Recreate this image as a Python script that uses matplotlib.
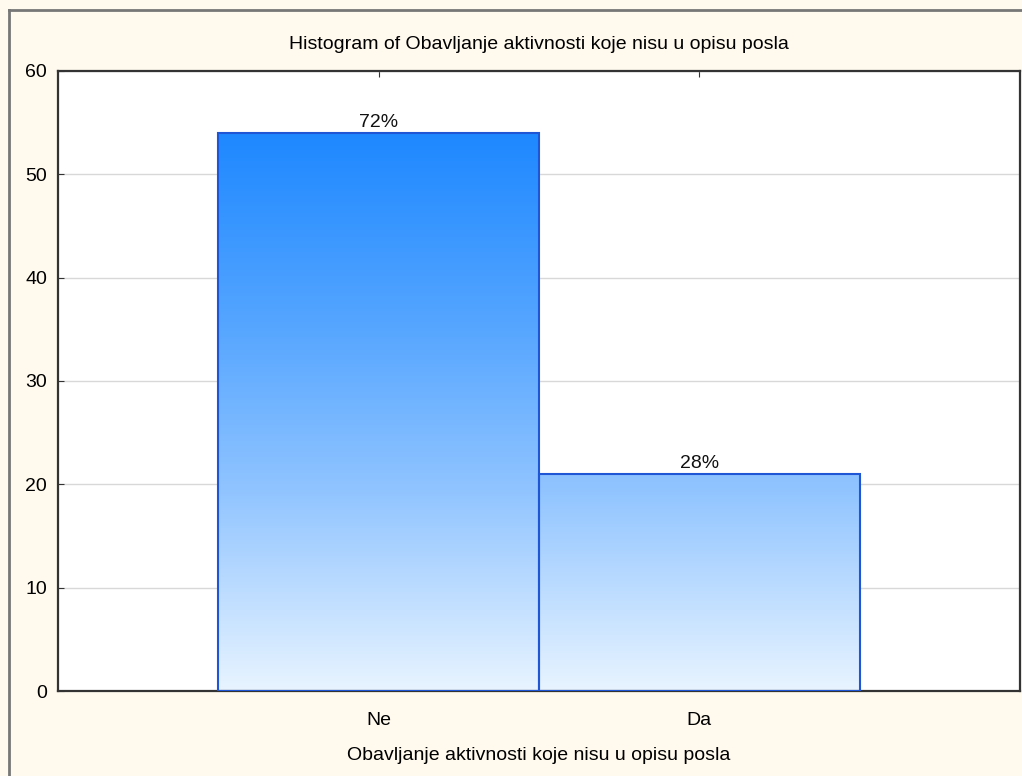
import numpy as np
import matplotlib
matplotlib.use('Agg')
import matplotlib.pyplot as plt
from matplotlib.colors import LinearSegmentedColormap
from matplotlib.patches import Rectangle

plt.rcParams['font.family'] = ['Liberation Sans Narrow', 'Liberation Sans', 'DejaVu Sans']

categories = ['Ne', 'Da']
counts = [54, 21]
percents = ['72%', '28%']
title = 'Histogram of Obavljanje aktivnosti koje nisu u opisu posla'
xlabel = 'Obavljanje aktivnosti koje nisu u opisu posla'

bg = '#FFF9EE'
fig = plt.figure(figsize=(10.22, 7.76), dpi=100, facecolor=bg)
ax = fig.add_axes([58 / 1022, 1 - 691 / 776, 962 / 1022, 620 / 776])
ax.set_facecolor('white')

# frame lines of the window (top and left)
fig.add_artist(plt.Line2D([9 / 1022, 1.0], [1 - 10 / 776, 1 - 10 / 776], transform=fig.transFigure,
                          color='#777777', lw=2))
fig.add_artist(plt.Line2D([9 / 1022, 9 / 1022], [0, 1 - 10 / 776], transform=fig.transFigure,
                          color='#777777', lw=2))

# gradient goes by height, so the short bar is lighter at its top
cmap = LinearSegmentedColormap.from_list(
    'grad', [(0, '#E8F4FF'), (0.36, '#90C4FF'), (0.65, '#56A6FF'), (1, '#1E88FF')])
top = max(counts)
grad = np.linspace(0, 1, 256).reshape(-1, 1)

x = np.arange(len(categories))
for i, (c, h) in enumerate(zip(categories, counts)):
    rect = Rectangle((x[i] - 0.5, 0), 1, h, facecolor='none', edgecolor='#1F56D6', lw=1.5, zorder=3)
    ax.add_patch(rect)
    im = ax.imshow(grad[: int(256 * h / top) or 1], cmap=cmap, vmin=0, vmax=1, origin='lower',
                   extent=(x[i] - 0.5, x[i] + 0.5, 0, h), aspect='auto', zorder=2)
    im.set_clip_path(rect)
    ax.text(x[i], h + 0.2, percents[i], ha='center', va='bottom', fontsize=14, color='#111111', zorder=4)

ax.set_xlim(-1, 2)
ax.set_ylim(0, 60)
ax.set_xticks(x)
ax.set_xticklabels(categories)
ax.set_yticks(range(0, 61, 10))
ax.yaxis.grid(True, color='#D8D8D8', lw=1, zorder=0)
ax.set_axisbelow(True)
ax.tick_params(axis='both', direction='in', length=4, color='#333333', labelsize=14, pad=8)
ax.tick_params(axis='x', top=True, pad=15)
for s in ax.spines.values():
    s.set_color('#333333')
    s.set_linewidth(1.6)

ax.set_title(title, fontsize=14, pad=16)
ax.set_xlabel(xlabel, fontsize=14, labelpad=13)

fig.savefig('out.png', dpi=100, facecolor=bg)
